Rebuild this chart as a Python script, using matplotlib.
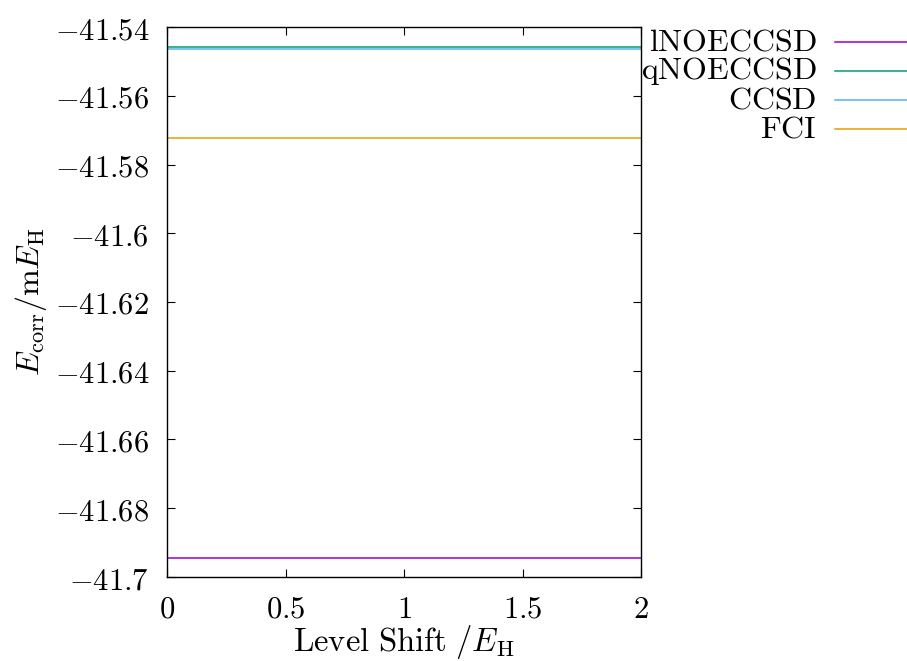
import matplotlib
matplotlib.use("Agg")
import matplotlib.pyplot as plt
from matplotlib.lines import Line2D
import numpy as np

plt.rcParams['mathtext.fontset'] = 'cm'
plt.rcParams['font.family'] = ['DejaVu Serif']

# Data (constant vs level shift)
level_shift = [0.0, 0.5, 1.0, 1.5, 2.0]
series_names = ["lNOECCSD", "qNOECCSD", "CCSD", "FCI"]
lnoeccsd = [-41.6946] * 5
qnoeccsd = [-41.5459] * 5
ccsd = [-41.5465] * 5
fci = [-41.5723] * 5
colors = ["#9400d3", "#009e73", "#56b4e9", "#e69f00"]

x_ticks = [0, 0.5, 1, 1.5, 2]
x_tick_labels = ["0", "0.5", "1", "1.5", "2"]
y_ticks = [-41.7, -41.68, -41.66, -41.64, -41.62, -41.6, -41.58, -41.56, -41.54]
y_tick_labels = ["−41.7", "−41.68", "−41.66", "−41.64", "−41.62", "−41.6",
                 "−41.58", "−41.56", "−41.54"]

W, H = 907, 661
fig = plt.figure(figsize=(W / 100, H / 100), dpi=100)
ax = fig.add_axes([167 / W, (H - 577) / H, 474 / W, 550 / H])

all_series = [lnoeccsd, qnoeccsd, ccsd, fci]
for ys, c in zip(all_series, colors):
    ax.plot(level_shift, ys, color=c, lw=1.1)

ax.set_xlim(0, 2)
ax.set_ylim(-41.7, -41.54)
ax.set_xticks(x_ticks)
ax.set_xticklabels([f"${t}$" for t in x_tick_labels])
ax.set_yticks(y_ticks)
ax.set_yticklabels([f"${t.replace('−', '-')}$" for t in y_tick_labels])
ax.tick_params(direction='in', length=6, width=0.8, top=True, right=True,
               labelsize=22)
ax.tick_params(axis='y', pad=13)
ax.tick_params(axis='x', pad=12)
for s in ax.spines.values():
    s.set_linewidth(1.0)

ax.set_xlabel(r"$\mathrm{Level\ Shift}\ /E_{\mathrm{H}}$", fontsize=23.5, labelpad=-1)
ax.set_ylabel(r"$E_{\mathrm{corr}}/\mathrm{m}E_{\mathrm{H}}$", fontsize=23, labelpad=4)

# Legend outside on the right, text right-aligned, line sample after
row_y = [42, 71, 100, 129]
for name, c, yy in zip(series_names, colors, row_y):
    fig.text(817 / W, 1 - yy / H, rf"$\mathrm{{{name}}}$", ha='right', va='center',
             fontsize=23)
    fig.add_artist(Line2D([835 / W, 1.0], [1 - yy / H, 1 - yy / H], color=c, lw=1.1,
                          transform=fig.transFigure))

fig.savefig("out.png", dpi=100)
